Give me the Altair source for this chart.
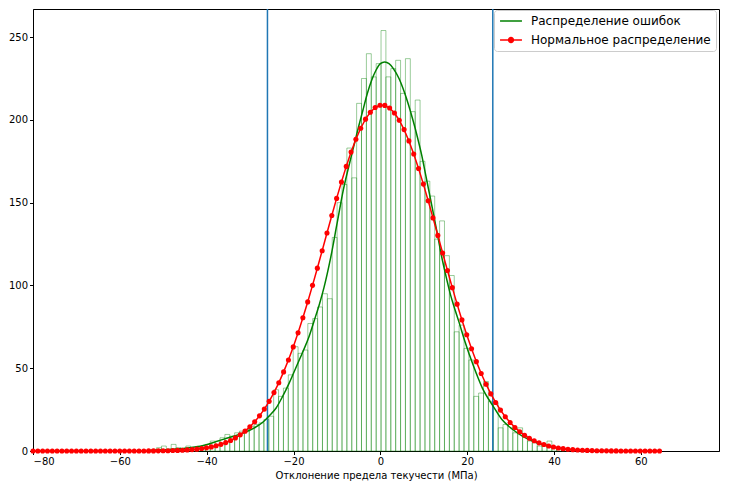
import altair as alt
import pandas as pd

# ---------------- data ----------------
SER_ERR = "Распределение ошибок"
SER_NORM = "Нормальное распределение"

bin_edges = [
    -52.67, -51.54, -50.42, -49.30, -48.17, -47.05, -45.92, -44.80, -43.68, -42.55,
    -41.43, -40.30, -39.18, -38.06, -36.93, -35.81, -34.68, -33.56, -32.44, -31.31,
    -30.19, -29.06, -27.94, -26.82, -25.69, -24.57, -23.44, -22.32, -21.20, -20.07,
    -18.95, -17.82, -16.70, -15.58, -14.45, -13.33, -12.20, -11.08, -9.96, -8.83,
    -7.71, -6.58, -5.46, -4.34, -3.21, -2.09, -0.96, 0.16, 1.28, 2.41,
    3.53, 4.66, 5.78, 6.90, 8.03, 9.15, 10.28, 11.40, 12.52, 13.65,
    14.77, 15.90, 17.02, 18.14, 19.27, 20.39, 21.52, 22.64, 23.76, 24.89,
    26.01, 27.14, 28.26, 29.38, 30.51, 31.63, 32.76, 33.88, 35.00, 36.13,
    37.25, 38.38, 39.50, 40.62, 41.75, 42.87,
]
bin_counts = [
    1, 2, 3, 1, 4, 2, 1, 3, 1, 2,
    3, 4, 6, 6, 8, 10, 9, 11, 12, 13,
    15, 16, 17, 19, 21, 37, 33, 38, 46, 63,
    59, 61, 77, 80, 87, 95, 92, 129, 150, 161,
    183, 165, 210, 225, 240, 226, 234, 254, 226, 231,
    236, 216, 237, 205, 212, 175, 163, 154, 128, 139,
    118, 106, 72, 76, 62, 55, 33, 35, 42, 30,
    29, 14, 16, 16, 11, 14, 9, 6, 5, 3,
    4, 6, 2, 1, 1,
]

kde_x = [-53, -50, -47, -44, -41, -38, -35, -32, -29, -27, -25.5, -24, -22.5, -21,
         -19.5, -18, -16.5, -15.2, -14, -13, -11.5, -10, -8.5, -6.6, -5, -4, -3, -2,
         -1, 0, 1, 2, 3, 4.3, 5.5, 6.5, 7.6, 8.5, 9.5, 10.5, 11.8, 13, 14, 15, 16.2,
         17, 18.1, 19.5, 21.5, 23.5, 26, 28, 30.5, 33, 36, 39, 42, 45]
kde_y = [0.3, 0.7, 1.2, 2.0, 3.2, 5.5, 8, 10.5, 14, 17.5, 21.5, 26, 33, 41,
         50, 59, 68.5, 79, 89, 98.5, 116, 137, 158, 179, 196, 206, 216, 224,
         230, 234, 235, 234, 231, 225, 217, 209, 199, 190, 179, 166, 149, 133, 119, 107, 94,
         87, 78, 66, 51, 38, 27, 19, 13, 8.5, 5, 2.7, 1.3, 0.5]

norm_x = [
    -80.00, -78.89, -77.78, -76.67, -75.56, -74.45, -73.34, -72.23, -71.12, -70.01,
    -68.90, -67.79, -66.68, -65.57, -64.46, -63.35, -62.24, -61.13, -60.02, -58.91,
    -57.80, -56.69, -55.58, -54.47, -53.36, -52.25, -51.14, -50.03, -48.92, -47.81,
    -46.70, -45.59, -44.48, -43.37, -42.26, -41.15, -40.04, -38.93, -37.82, -36.71,
    -35.60, -34.49, -33.38, -32.27, -31.16, -30.05, -28.94, -27.83, -26.72, -25.61,
    -24.50, -23.39, -22.28, -21.17, -20.06, -18.95, -17.84, -16.73, -15.62, -14.51,
    -13.40, -12.29, -11.18, -10.07, -8.96, -7.85, -6.74, -5.63, -4.52, -3.41,
    -2.30, -1.19, -0.08, 1.03, 2.14, 3.25, 4.36, 5.47, 6.58, 7.69,
    8.80, 9.91, 11.02, 12.13, 13.24, 14.35, 15.46, 16.57, 17.68, 18.79,
    19.90, 21.01, 22.12, 23.23, 24.34, 25.45, 26.56, 27.67, 28.78, 29.89,
    31.00, 32.11, 33.22, 34.33, 35.44, 36.55, 37.66, 38.77, 39.88, 40.99,
    42.10, 43.21, 44.32, 45.43, 46.54, 47.65, 48.76, 49.87, 50.98, 52.09,
    53.20, 54.31, 55.42, 56.53, 57.64, 58.75, 59.86, 60.97, 62.08, 63.19,
    64.30,
]
norm_y = [
    0, 0, 0, 0, 0, 0, 0, 0, 0, 0,
    0, 0, 0, 0, 0, 0, 0, 0, 0, 0,
    0, 0, 0.03, 0.04, 0.05, 0.07, 0.10, 0.14, 0.19, 0.27,
    0.36, 0.48, 0.65, 0.86, 1.13, 1.47, 1.91, 2.47, 3.16, 4.02,
    5.07, 6.35, 7.91, 9.77, 11.99, 14.61, 17.68, 21.23, 25.32, 29.99,
    35.28, 41.19, 47.78, 54.99, 62.88, 71.38, 80.45, 90.06, 100.07, 110.44,
    121.01, 131.65, 142.25, 152.59, 162.54, 171.92, 180.55, 188.29, 194.98, 200.47,
    204.67, 207.49, 208.86, 208.76, 207.19, 204.18, 199.80, 194.14, 187.31, 179.45,
    170.69, 161.22, 151.21, 140.82, 130.23, 119.57, 109.01, 98.69, 88.72, 79.19,
    70.18, 61.76, 53.98, 46.84, 40.36, 34.53, 29.32, 24.72, 20.72, 17.23,
    14.23, 11.67, 9.50, 7.68, 6.17, 4.92, 3.89, 3.06, 2.39, 1.85,
    1.42, 1.09, 0.82, 0.62, 0.46, 0.35, 0.25, 0.19, 0.14, 0.10,
    0.07, 0.05, 0.04, 0.03, 0.02, 0.01, 0, 0, 0, 0,
    0,
]

bound_x = [-26.0, 25.9]
x_ticks = [-80, -60, -40, -20, 0, 20, 40, 60]
y_ticks = [0, 50, 100, 150, 200, 250]

# ---------------- tables ----------------
hist_df = pd.DataFrame({"x0": bin_edges[:-1], "x1": bin_edges[1:], "n": bin_counts})
kde_df = pd.DataFrame({"x": kde_x, "y": kde_y, "s": SER_ERR})
norm_df = pd.DataFrame({"x": norm_x, "y": norm_y, "s": SER_NORM})
bound_df = pd.DataFrame({"x": bound_x})

FONT = "DejaVu Sans"
xs = alt.Scale(domain=[-80, 78], nice=False, zero=False)
ys = alt.Scale(domain=[0, 267], nice=False)
x_axis = alt.Axis(values=x_ticks, title="Отклонение предела текучести (МПа)", format="d")
y_axis = alt.Axis(values=y_ticks, title=None, format="d")

dot_path = "M-1,0H1M-0.22,0A0.22,0.22 0 1,0 0.22,0A0.22,0.22 0 1,0 -0.22,0Z"
LX = 466
common_legend = dict(
    orient="none",
    symbolSize=480,
    symbolStrokeWidth=1.5,
    labelFont=FONT,
    labelFontSize=12,
    labelColor="#000",
    labelOffset=8,
    labelLimit=400,
)
# first entry: drawn on top of the framed box of the second legend
leg_err = alt.Legend(title=None, legendX=LX, legendY=0, padding=0, zindex=2,
                     symbolType="stroke", **common_legend)
# second entry: owns the white framed box (blank title row leaves room for the first entry)
leg_norm = alt.Legend(title="\u00a0", titleFontSize=10, titlePadding=3, titleFont=FONT,
                      legendX=LX - 5, legendY=1, padding=5, zindex=1,
                      fillColor="white", strokeColor="#cccccc", cornerRadius=3,
                      symbolType=dot_path, symbolFillColor="#ff0000",
                      symbolStrokeColor="#ff0000", **common_legend)

hist = alt.Chart(hist_df).mark_bar(
    fillOpacity=0, stroke="#008000", strokeOpacity=0.4, strokeWidth=1
).encode(
    x=alt.X("x0:Q", scale=xs, axis=x_axis),
    x2="x1:Q",
    y=alt.Y("n:Q", scale=ys, axis=y_axis),
    y2=alt.datum(0),
)

rules = alt.Chart(bound_df).mark_rule(color="#1f77b4", strokeWidth=1.5).encode(
    x=alt.X("x:Q", scale=xs)
)

kde = alt.Chart(kde_df).mark_line(strokeWidth=1.5, interpolate="monotone").encode(
    x=alt.X("x:Q", scale=xs),
    y=alt.Y("y:Q", scale=ys),
    color=alt.Color("s:N", scale=alt.Scale(domain=[SER_ERR], range=["#008000"]), legend=leg_err),
)

norm = alt.Chart(norm_df).mark_line(
    strokeWidth=1.5, point=alt.OverlayMarkDef(filled=True, size=26)
).encode(
    x=alt.X("x:Q", scale=xs),
    y=alt.Y("y:Q", scale=ys),
    color=alt.Color("s:N", scale=alt.Scale(domain=[SER_NORM], range=["#ff0000"]), legend=leg_norm),
)

chart = (
    alt.layer(hist, rules, kde, norm)
    .resolve_scale(color="independent")
    .resolve_legend(color="independent")
    .properties(
        width=712,
        height=473,
        autosize=alt.AutoSizeParams(type="fit", contains="padding"),
        padding={"left": 0, "top": 0, "right": 1, "bottom": 0},
        background="white",
    )
    .configure_axis(
        grid=False,
        labelFont=FONT,
        labelFontSize=10,
        labelColor="#000",
        titleFont=FONT,
        titleFontSize=10,
        titleFontWeight="normal",
        titleColor="#000",
        domainColor="#000",
        tickColor="#000",
        tickSize=3.5,
        labelPadding=2,
        titlePadding=4,
    )
    .configure_view(stroke="#000", strokeWidth=1)
)

chart.save("out.html", embed_options={"renderer": "svg", "actions": False})
